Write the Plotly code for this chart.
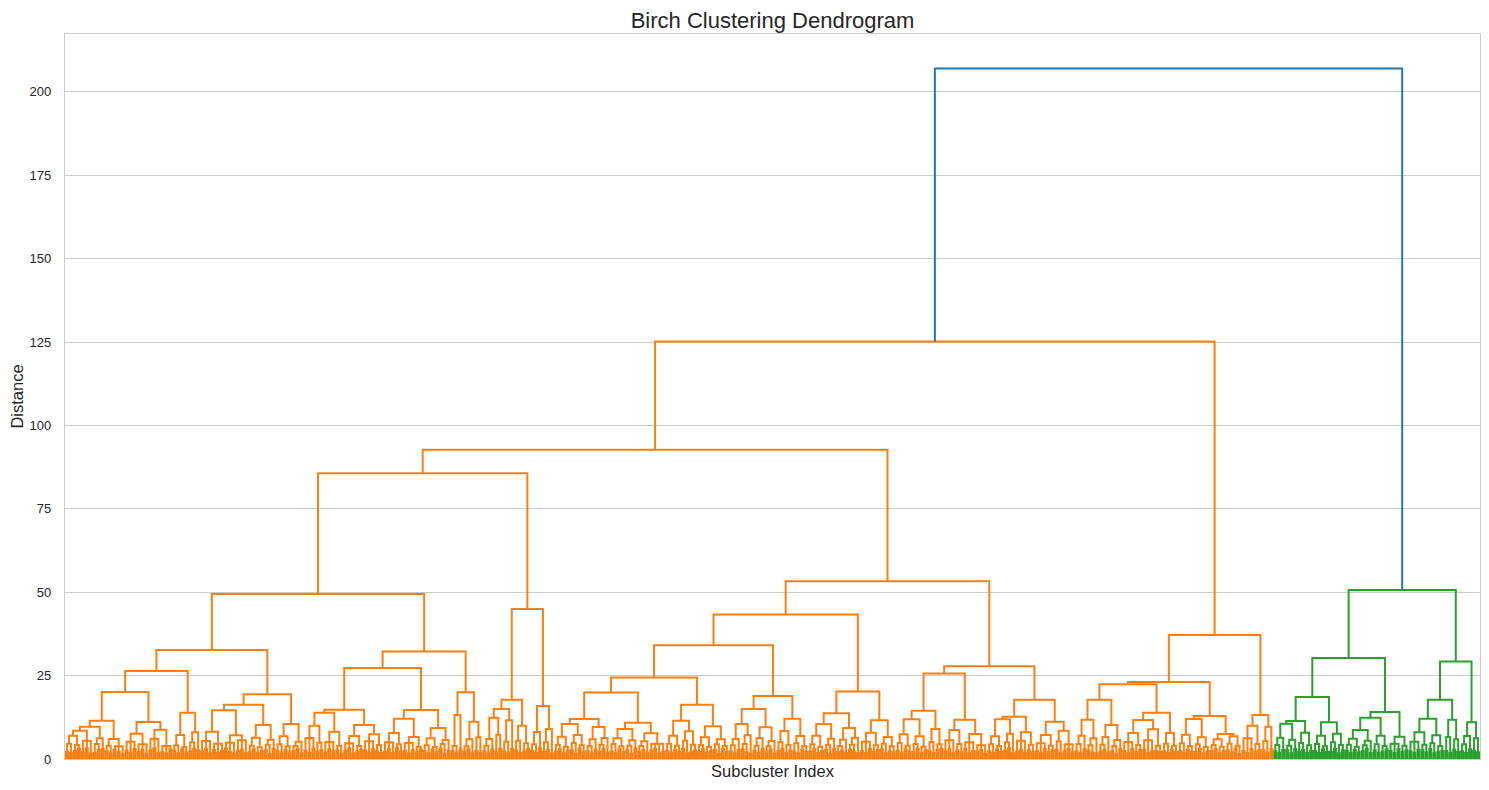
import plotly.graph_objects as go

# Dendrogram of Birch subclusters.
# A node is [merge_height, child, child, ...]; a bare number is a pair of
# leaves merged at that height.

# ---- orange cluster, left block ----
n11_5 = [11.5,
         [9.7, [8.5, [7.0, [4.6, 2.2, 1.8], [4.2, 2.5, 3.1]], [5.5, 2.0, 3.2, 1.6]],
          [6.2, [4.5, 1.9, 2.7], 3.0]],
         [6.0, [4.0, 2.3, 1.7], [3.8, 2.8, 2.1, 1.4]]]
n11_1 = [11.1, [7.6, [5.2, 2.4, 1.9, 3.0], [4.4, 2.1, 2.8, 1.6]],
         [8.8, [6.1, 2.6, 3.3, 1.8], [3.9, 2.2, 1.7, 2.9]]]
n13_9a = [13.9, [7.2, [4.1, 2.5, 1.8], [3.6, 2.9, 2.0]], [8.0, [5.0, 2.3, 3.1], 2.6]]
n14_6 = [14.6, [8.2, [5.4, 2.2, 3.0, 1.7], [4.6, 2.7, 1.9, 2.4]],
         [7.1, [4.9, 3.2, 2.1, 1.6], [5.6, 2.5, 2.8, 1.9]]]
n10_2 = [10.2, [6.4, [4.0, 2.0, 2.9], [3.5, 1.8, 2.4]], [5.8, [4.3, 2.6, 1.5], 3.1]]
n10_5 = [10.5, [6.8, [4.4, 2.3, 1.9], [3.8, 2.7, 2.0]], [5.2, [3.9, 2.4, 3.0], 1.7]]
n13_9b = [13.9, [10.0, [6.3, 2.5, 1.8, 3.1], [4.9, 2.2, 2.7]],
          [8.2, [5.1, 1.9, 2.9, 2.3], [4.0, 2.6, 1.6]]]
n10_2b = [10.2, [6.9, [4.7, 2.4, 3.2, 1.7], [3.9, 2.0, 2.8]],
          [7.4, [5.3, 2.6, 1.9, 3.0], [4.2, 2.3, 1.8]]]
n12_1 = [12.1, [7.8, [5.0, 2.1, 2.9, 1.8], [4.4, 3.3, 2.2]],
         [6.6, [4.8, 2.5, 1.7, 2.6], [3.7, 2.0, 2.9]]]
n9_3 = [9.3, [6.2, [4.1, 2.4, 1.9], [3.6, 2.8, 2.1]], [5.7, [4.5, 3.1, 1.6], 2.5]]
n13_2 = [13.2, [3.9, 2.3, 1.8], 2.9]
n11_2 = [11.2, [5.9, [3.8, 2.2, 2.9], 1.7], [6.5, 2.5, 1.9]]
n12_4 = [12.4, [6.0, [4.0, 2.4, 1.7], 2.9], [7.3, 2.1, 3.0]]
n11_6 = [11.6, [5.2, 2.3, 1.9], 3.1]
n10_0 = [10.0, [5.5, 2.6, 1.8], [4.7, 2.2, 3.0]]
n15_9 = [15.9, [8.1, [4.4, 2.5, 1.9], 3.2], [9.0, [5.0, 2.1, 2.8], 1.7]]

# ---- orange cluster, middle block ----
n10_5b = [10.5, [6.7, [4.3, 2.2, 2.9], [3.7, 1.8, 2.5]], [7.2, [4.9, 2.7, 1.6], [4.1, 3.1, 2.0]]]
n9_6 = [9.6, [5.9, [3.9, 2.4, 1.7], 2.8], [6.3, [4.2, 2.1, 3.0], 1.9]]
n10_9 = [10.9, [9.0, [6.2, [4.5, 2.3, 1.8], [3.8, 2.9, 2.1]], [5.6, [4.0, 2.6, 1.6], 3.1]],
         [7.7, [5.3, [3.9, 2.2, 2.7], 1.9], [4.6, 2.5, 3.0, 1.7, 2.2]]]
n11_5b = [11.5, [7.0, [4.6, 2.4, 1.9], [4.0, 2.8, 2.2]], [8.3, [5.5, 3.1, 1.7], [4.3, 2.0, 2.6]]]
n9_8 = [9.8, [6.5, [4.2, 2.1, 2.9], [3.6, 1.8, 2.4]], [5.9, [4.4, 2.7, 1.6], [3.9, 3.0, 2.2]]]
n10_5c = [10.5, [6.0, [4.1, 2.3, 1.8], 2.7], [7.1, [4.5, 2.9, 2.0], 1.6]]
n9_5 = [9.5, [6.3, [4.0, 2.5, 1.9], 3.0], [5.4, [3.8, 2.2, 2.8], 1.7]]
n12_1b = [12.1, [8.4, [5.1, 2.4, 3.1], [4.2, 1.9, 2.6]], [6.9, [4.7, 2.2, 1.7], [3.9, 2.8, 2.1]]]
n10_5d = [10.5, [7.0, [4.4, 2.3, 2.9], [3.7, 1.8, 2.4]], [6.1, [4.2, 2.7, 1.6], 3.0]]
n9_3b = [9.3, [5.8, [3.9, 2.1, 2.6], 1.9], [6.4, [4.3, 2.8, 2.2], 1.7]]
n11_6b = [11.6, [7.9, [5.2, 2.4, 1.8, 3.0], [4.1, 2.2, 2.7]],
          [6.6, [4.6, 2.9, 1.7], [3.8, 2.3, 2.0]]]
n11_9 = [11.9, [7.4, [4.8, 2.5, 1.9], [4.0, 2.9, 2.2]], [6.8, [4.5, 2.1, 3.1], [3.7, 1.8, 2.6]]]
n9_0 = [9.0, [5.1, 2.4, 1.8], [4.4, 2.7, 3.0]]
n11_8 = [11.8, [8.7, [5.6, 2.3, 2.9, 1.7], [4.5, 2.6, 2.0]],
         [7.5, [5.0, 3.1, 1.9, 2.4], [4.1, 2.2, 2.8, 1.6]]]
n12_7 = [12.7, [11.9, [6.8, [4.4, 2.3, 1.8], [3.9, 2.9, 2.1]], [7.6, [5.0, 2.5, 3.2], 1.7]],
         [8.0, [5.5, 2.2, 2.8, 1.9], [4.3, 2.6, 2.0]]]
n11_2b = [11.2, [7.2, [4.7, 2.4, 1.9, 3.0], [4.0, 2.1, 2.7]],
          [8.5, [5.3, 2.8, 1.7], [4.4, 2.3, 3.1, 2.0]]]

# ---- orange cluster, right block ----
n11_8b = [11.8, [7.0, [4.5, 2.3, 1.8], 2.9], [6.2, [4.1, 2.6, 2.0], 1.7]]
n10_2c = [10.2, [6.6, [4.3, 2.2, 2.8], 1.9], [5.7, [3.9, 2.5, 1.6], 3.0]]
n11_7 = [11.7, [7.8, [5.1, 2.4, 1.9, 3.1], [4.2, 2.0, 2.7]],
         [8.9, [5.6, 2.8, 1.7, 2.3], [4.0, 2.5, 2.1]]]
n7_8 = [7.8, [4.6, 2.3, 1.8], [4.0, 2.7, 2.1]]
n12_0b = [12.0, [7.3, [4.7, 2.4, 1.9], [3.9, 2.8, 2.2]], [6.5, [4.4, 2.1, 3.0], [3.6, 1.7, 2.5]]]
n7_5 = [7.5, [5.9, [4.2, 2.3, 2.9], [3.7, 1.8, 2.4]], [6.8, [4.6, 2.6, 2.0], [4.0, 3.1, 1.6]]]
n13_2b = [13.2, [10.0, [6.2, 2.4, 1.8, 2.9], [4.5, 2.2, 2.7]], [9.7, [5.4, 2.6, 1.9], 3.0]]

# ---- green cluster ----
n10_6 = [10.6, [6.4, [4.2, 2.3, 1.9], 2.8], [5.8, [4.0, 2.6, 1.7], 3.0]]
n7_9 = [7.9, [4.8, 2.2, 2.7], [4.1, 1.8, 2.5]]
n11_0 = [11.0, [7.0, [4.5, 2.4, 1.8], [3.8, 2.9, 2.1]], [7.6, [5.0, 2.2, 3.0], [4.2, 1.7, 2.6]]]
n8_7 = [8.7, [6.1, [4.3, 2.5, 1.9], [3.7, 2.8, 2.0]], [5.5, [4.1, 2.3, 3.1], 1.8]]
n7_0 = [7.0, [4.4, 2.6, 1.9], [3.9, 2.2, 2.9]]
n6_7 = [6.7, [4.6, 2.4, 1.8, 2.9], [4.0, 2.1, 2.6]]
n12_1c = [12.1, [8.0, [5.2, 2.3, 1.9, 2.8], [4.3, 2.6, 2.0]], [7.1, [4.7, 3.0, 1.7], [3.9, 2.2, 2.5]]]
n11_8c = [11.8, [6.6, 2.4, 1.9], [5.9, 2.8, 2.1]]
n11_0b = [11.0, [6.9, [4.4, 2.3, 1.8], 2.9], [6.2, 2.5, 2.0]]

# ---- upper merges ----
left_block = [85.7,
              [49.5,
               [32.7, [26.4, [20.1, n11_5, n11_1], n13_9a],
                [19.4, [16.3, n14_6, n10_2], n10_5]],
               [32.2, [27.3, [14.8, n13_9b, n10_2b], [14.7, n12_1, n9_3]],
                [20.0, n13_2, n11_2]]],
              [45.0, [17.8, [15.0, n12_4, n11_6], n10_0], n15_9]]
middle_block = [53.3,
                [43.3,
                 [34.1,
                  [24.4, [19.9, [12.0, n10_5b, n9_6], n10_9], [16.3, n11_5b, n9_8]],
                  [18.9, [15.0, n10_5c, n9_5], n12_1b]],
                 [20.2, [13.7, n10_5d, n9_3b], n11_6b]],
                [27.8, [25.6, [14.5, n11_9, n9_0], n11_8], [17.8, n12_7, n11_2b]]]
right_block = [37.2,
               [23.1, [22.4, [17.8, n11_8b, n10_2c], [13.9, n11_7, n7_8]],
                [12.9, n12_0b, n7_5]],
               n13_2b]
orange_cluster = [125.2, [92.7, left_block, middle_block], right_block]
green_cluster = [50.7,
                 [30.3, [18.6, [11.4, n10_6, n7_9], n11_0], [14.1, [12.4, n8_7, n7_0], n6_7]],
                 [29.2, [17.8, n12_1c, n11_8c], n11_0b]]
root_height = 207.0
y_ticks = [0, 25, 50, 75, 100, 125, 150, 175, 200]

segments = {"orange": ([], []), "green": ([], []), "blue": ([], [])}
leaf_count = [0]


def add_link(color, xs, ys):
    sx, sy = segments[color]
    sx.extend(xs + [None])
    sy.extend(ys + [None])


def draw(node, color):
    """Returns (x, top height) of the node, leaves spaced 10 apart like scipy."""
    if not isinstance(node, list):
        x1 = 5 + 10 * leaf_count[0]
        x2 = x1 + 10
        leaf_count[0] += 2
        add_link(color, [x1, x1, x2, x2], [0, node, node, 0])
        return (x1 + x2) / 2, node
    h = node[0]
    kids = [draw(c, color) for c in node[1:]]
    (xl, hl), (xr, hr) = kids[0], kids[-1]
    add_link(color, [xl, xl, xr, xr], [hl, h, h, hr])
    for xm, hm in kids[1:-1]:
        add_link(color, [xm, xm], [hm, h])
    return (xl + xr) / 2, h


xo, ho = draw(orange_cluster, "orange")
xg, hg = draw(green_cluster, "green")
add_link("blue", [xo, xo, xg, xg], [ho, root_height, root_height, hg])
n_leaves = leaf_count[0]

colors = {"orange": "#ff7f0e", "green": "#2ca02c", "blue": "#1f77b4"}
fig = go.Figure()
for name in ["orange", "green", "blue"]:
    sx, sy = segments[name]
    fig.add_trace(go.Scatter(x=sx, y=sy, mode="lines",
                             line=dict(color=colors[name], width=2),
                             hoverinfo="skip", showlegend=False))

# page body has an 8px margin, so the figure is sized to fit inside it
W, H = 1481, 782
font = "Liberation Sans, Arial, sans-serif"
fig.update_layout(
    width=W, height=H,
    margin=dict(l=57, r=9, t=26, b=31),
    paper_bgcolor="white", plot_bgcolor="white",
    font=dict(family=font, color="#262626"),
    title=dict(text="Birch Clustering Dendrogram", xref="paper", x=0.5, xanchor="center",
               y=1 - 12 / H, yanchor="middle", font=dict(size=22, color="#262626")),
)
fig.update_xaxes(range=[0, 10 * n_leaves], showticklabels=False, showgrid=False,
                 zeroline=False, showline=True, mirror=True, linecolor="#cccccc",
                 linewidth=1.25, ticks="",
                 title=dict(text="Subcluster Index", font=dict(size=16.5), standoff=6),
                 automargin=False)
fig.update_yaxes(range=[0, root_height * 1.05], tickvals=y_ticks,
                 showgrid=True, gridcolor="#cccccc", gridwidth=1, zeroline=False,
                 showline=True, mirror=True, linecolor="#cccccc", linewidth=1.25,
                 ticks="outside", ticklen=10, tickcolor="rgba(0,0,0,0)",
                 tickfont=dict(size=13, color="#262626"),
                 title=dict(text="Distance", font=dict(size=16.5), standoff=2),
                 automargin=False)

fig.write_html("out.html")
